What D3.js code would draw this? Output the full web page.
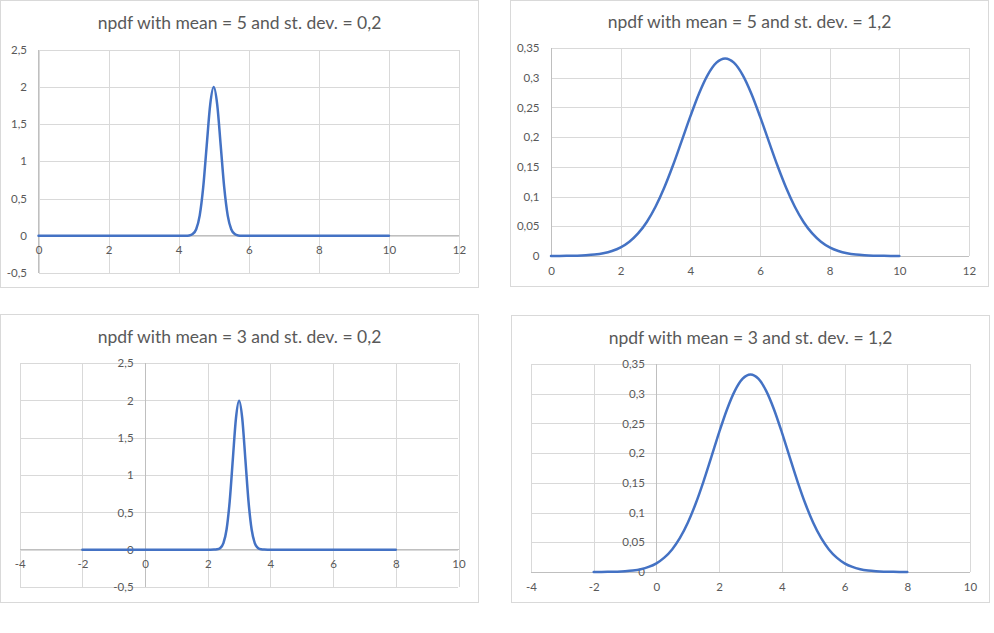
<!DOCTYPE html>
<html>
<head>
<meta charset="utf-8">
<script src="https://cdn.jsdelivr.net/npm/d3@7"></script>
<style>
  html, body { margin: 0; padding: 0; background: #ffffff; }
  svg { display: block; }
  text { font-family: Lato, "Open Sans", sans-serif; }
</style>
</head>
<body>
<svg id="chart" width="994" height="633"></svg>
<script>
// ---------- DATA ----------
const titles = [
  "npdf with mean = 5 and st. dev. = 0,2",
  "npdf with mean = 5 and st. dev. = 1,2",
  "npdf with mean = 3 and st. dev. = 0,2",
  "npdf with mean = 3 and st. dev. = 1,2"
];

// narrow curve (st. dev. 0,2), mean 5
const xNarrowTop = [0, 1, 2, 3, 4, 4.2, 4.3, 4.4, 4.5, 4.6, 4.7, 4.8, 4.9, 5.0, 5.1, 5.2, 5.3, 5.4, 5.5, 5.6, 5.7, 5.8, 6, 7, 8, 9, 10];
// narrow curve, mean 3
const xNarrowBottom = [-2, -1, 0, 1, 2, 2.2, 2.3, 2.4, 2.5, 2.6, 2.7, 2.8, 2.9, 3.0, 3.1, 3.2, 3.3, 3.4, 3.5, 3.6, 3.7, 3.8, 4, 5, 6, 7, 8];
const yNarrow = [0, 0, 0, 0, 0, 0.0007, 0.0044, 0.0222, 0.0876, 0.270, 0.648, 1.210, 1.760, 1.995, 1.760, 1.210, 0.648, 0.270, 0.0876, 0.0222, 0.0044, 0.0007, 0, 0, 0, 0, 0];

// wide curve (st. dev. 1,2), mean 5
const xWideTop = [0, 0.25, 0.5, 0.75, 1, 1.25, 1.5, 1.75, 2, 2.25, 2.5, 2.75, 3, 3.25, 3.5, 3.75, 4, 4.25, 4.5, 4.75, 5,
                  5.25, 5.5, 5.75, 6, 6.25, 6.5, 6.75, 7, 7.25, 7.5, 7.75, 8, 8.25, 8.5, 8.75, 9, 9.25, 9.5, 9.75, 10];
// wide curve, mean 3
const xWideBottom = [-2, -1.75, -1.5, -1.25, -1, -0.75, -0.5, -0.25, 0, 0.25, 0.5, 0.75, 1, 1.25, 1.5, 1.75, 2, 2.25, 2.5, 2.75, 3,
                     3.25, 3.5, 3.75, 4, 4.25, 4.5, 4.75, 5, 5.25, 5.5, 5.75, 6, 6.25, 6.5, 6.75, 7, 7.25, 7.5, 7.75, 8];
const yWide = [0.0001, 0.0001, 0.0003, 0.0006, 0.0013, 0.0025, 0.0047, 0.0085, 0.0146, 0.0241, 0.0380, 0.0573, 0.0829, 0.1148, 0.1522, 0.1933, 0.2349, 0.2735, 0.3048, 0.3253, 0.3324,
               0.3253, 0.3048, 0.2735, 0.2349, 0.1933, 0.1522, 0.1148, 0.0829, 0.0573, 0.0380, 0.0241, 0.0146, 0.0085, 0.0047, 0.0025, 0.0013, 0.0006, 0.0003, 0.0001, 0.0001];

// axis ranges and tick values
const xRangeTop = [0, 12];
const xRangeBottom = [-4, 10];
const yRangeNarrow = [-0.5, 2.5];
const yRangeWide = [0, 0.35];
const xTicksTop = [0, 2, 4, 6, 8, 10, 12];
const xTicksBottom = [-4, -2, 0, 2, 4, 6, 8, 10];
const yTicksNarrow = [-0.5, 0, 0.5, 1, 1.5, 2, 2.5];
const yTicksWide = [0, 0.05, 0.1, 0.15, 0.2, 0.25, 0.3, 0.35];

// ---------- LAYOUT ----------
const charts = [
  { title: titles[0], box: [0.5, 0.5, 478, 287], plot: [38.5, 459, 49.5, 273], titleY: 23,
    xd: xRangeTop, yd: yRangeNarrow, xt: xTicksTop, yt: yTicksNarrow, xs: xNarrowTop, ys: yNarrow },
  { title: titles[1], box: [510.5, 0.5, 478, 286], plot: [551, 969, 48, 256], titleY: 22,
    xd: xRangeTop, yd: yRangeWide, xt: xTicksTop, yt: yTicksWide, xs: xWideTop, ys: yWide },
  { title: titles[2], box: [0.5, 314.5, 478, 288], plot: [19.7, 458.5, 363, 587], titleY: 337,
    xd: xRangeBottom, yd: yRangeNarrow, xt: xTicksBottom, yt: yTicksNarrow, xs: xNarrowBottom, ys: yNarrow },
  { title: titles[3], box: [511.5, 315.5, 478, 287], plot: [531, 970, 364, 572], titleY: 338,
    xd: xRangeBottom, yd: yRangeWide, xt: xTicksBottom, yt: yTicksWide, xs: xWideBottom, ys: yWide }
];

const locale = d3.formatLocale({ decimal: ",", thousands: ".", grouping: [3], currency: ["", ""], minus: "-" });
const fmt = locale.format("~g");

const GRID = "#d9d9d9", AXIS = "#bfbfbf", TEXT = "#595959", LINE = "#4472c4";

const svg = d3.select("#chart");

charts.forEach(c => {
  const g = svg.append("g");
  const [bx, by, bw, bh] = c.box;
  const [pl, pr, pt, pb] = c.plot;

  g.append("rect").attr("x", bx).attr("y", by).attr("width", bw).attr("height", bh)
    .attr("fill", "#fff").attr("stroke", GRID).attr("stroke-width", 1);

  g.append("text").attr("x", bx + bw / 2).attr("y", c.titleY).attr("dy", "0.35em")
    .attr("text-anchor", "middle").attr("fill", TEXT).attr("font-size", 17.5).text(c.title);

  const x = d3.scaleLinear().domain(c.xd).range([pl, pr]);
  const y = d3.scaleLinear().domain(c.yd).range([pb, pt]);

  // grid
  g.append("g").attr("transform", `translate(0,${pb})`)
    .call(d3.axisBottom(x).tickValues(c.xt).tickSize(-(pb - pt)).tickFormat(""))
    .call(s => s.select(".domain").remove())
    .call(s => s.selectAll("line").attr("stroke", GRID).attr("shape-rendering", "crispEdges"));
  g.append("g").attr("transform", `translate(${pl},0)`)
    .call(d3.axisLeft(y).tickValues(c.yt).tickSize(-(pr - pl)).tickFormat(""))
    .call(s => s.select(".domain").remove())
    .call(s => s.selectAll("line").attr("stroke", GRID).attr("shape-rendering", "crispEdges"));

  const x0 = x(Math.max(0, c.xd[0]));
  const y0 = y(0);

  // axis lines
  g.append("line").attr("x1", pl).attr("x2", pr).attr("y1", y0).attr("y2", y0)
    .attr("stroke", AXIS).attr("shape-rendering", "crispEdges");
  g.append("line").attr("x1", x0).attr("x2", x0).attr("y1", pt).attr("y2", pb)
    .attr("stroke", AXIS).attr("shape-rendering", "crispEdges");

  // tick labels
  g.append("g").attr("transform", `translate(${x0},0)`)
    .call(d3.axisLeft(y).tickValues(c.yt).tickSize(0).tickPadding(11.5).tickFormat(fmt))
    .call(s => s.select(".domain").remove())
    .call(s => s.selectAll("text").attr("fill", TEXT).attr("font-size", 11.5)
      .attr("font-family", "Lato, 'Open Sans', sans-serif"));
  g.append("g").attr("transform", `translate(0,${y0})`)
    .call(d3.axisBottom(x).tickValues(c.xt).tickSize(0).tickPadding(10.5).tickFormat(fmt))
    .call(s => s.select(".domain").remove())
    .call(s => s.selectAll("text").attr("fill", TEXT).attr("font-size", 11.5)
      .attr("font-family", "Lato, 'Open Sans', sans-serif"));

  // curve
  const pts = c.xs.map((v, i) => [v, c.ys[i]]);
  g.append("path").datum(pts)
    .attr("fill", "none").attr("stroke", LINE).attr("stroke-width", 2.5)
    .attr("stroke-linejoin", "round").attr("stroke-linecap", "round")
    .attr("d", d3.line().x(d => x(d[0])).y(d => y(d[1])).curve(d3.curveMonotoneX));
});
</script>
</body>
</html>
